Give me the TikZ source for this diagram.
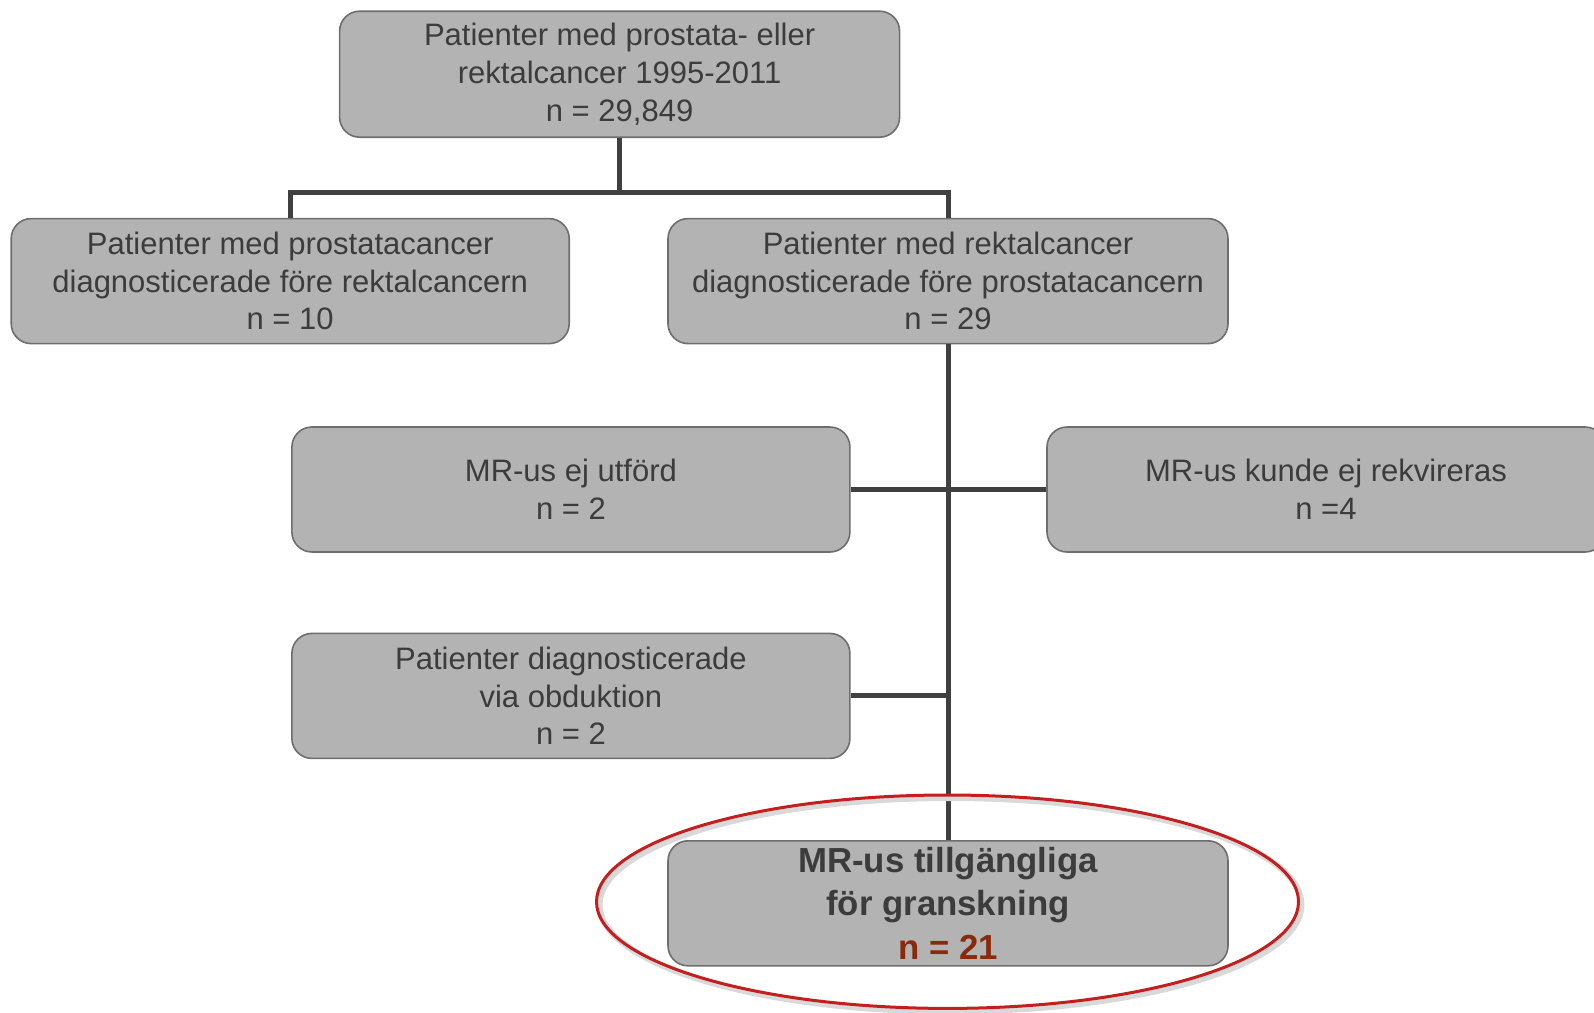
\documentclass[tikz,border=0pt]{standalone}
\usepackage{fontspec}
\setmainfont{Liberation Sans}
\usetikzlibrary{shapes.geometric}
\definecolor{boxfill}{HTML}{B2B3B2}
\definecolor{boxline}{HTML}{6E6E6E}
\definecolor{txt}{HTML}{3C3C3C}
\definecolor{conncol}{HTML}{404040}
\definecolor{ellred}{HTML}{C41E1E}
\definecolor{nred}{HTML}{8A2A0C}
\tikzset{
  box/.style={draw=boxline, line width=0.8pt, fill=boxfill, rounded corners=10pt,
    minimum width=279pt, minimum height=62.5pt, align=center, text=txt, inner sep=0pt,
    font=\fontsize{15.5}{18.8}\selectfont},
  conn/.style={draw=conncol, line width=2.5pt},
  ring/.style={ellipse, minimum width=351pt, minimum height=106.7pt, inner sep=0pt},
}
\begin{document}
\begin{tikzpicture}[x=0.5pt,y=-0.5pt]
\useasboundingbox (0,0) rectangle (1594,1012);
\clip (0,0) rectangle (1594,1012);
\node[box, minimum width=280pt, minimum height=63pt] (top) at (619.6,74.2)
  {Patienter med prostata- eller\\rektalcancer 1995-2011\\n = 29,849};
\node[box] (left2) at (290.2,281.1)
  {Patienter med prostatacancer\\diagnosticerade före rektalcancern\\n = 10};
\node[box, minimum width=280pt] (right2) at (948,281.1)
  {Patienter med rektalcancer\\diagnosticerade före prostatacancern\\n = 29};
\node[box] (ej) at (570.9,489.5) {MR-us ej utförd\\n = 2};
\node[box] (kunde) at (1326,489.5) {MR-us kunde ej rekvireras\\n =4};
\node[box] (obd) at (570.9,695.9)
  {Patienter diagnosticerade\\via obduktion\\n = 2};
\node[box, minimum width=280pt, font=\bfseries\fontsize{17.4}{21.8}\selectfont] (final) at (948,903.3)
  {MR-us tillgängliga\\för granskning\\\textcolor{nred}{n = 21}};
\coordinate (j1) at (619.6,192);
\coordinate (j2) at (948,695.9);
\draw[conn] (top.south) -- (j1);
\draw[conn] (left2.north) |- (j1) -| (right2.north);
\draw[conn] (right2.south) -- (final.north);
\draw[conn] (ej.east) -- (kunde.west);
\draw[conn] (obd.east) -- (j2);
\node[ring, draw=black!15, line width=3pt] (ringshadow) at (950.5,904.7) {};
\node[ring, draw=ellred, line width=1.5pt] (ring) at (947.5,901.7) {};
\end{tikzpicture}
\end{document}
